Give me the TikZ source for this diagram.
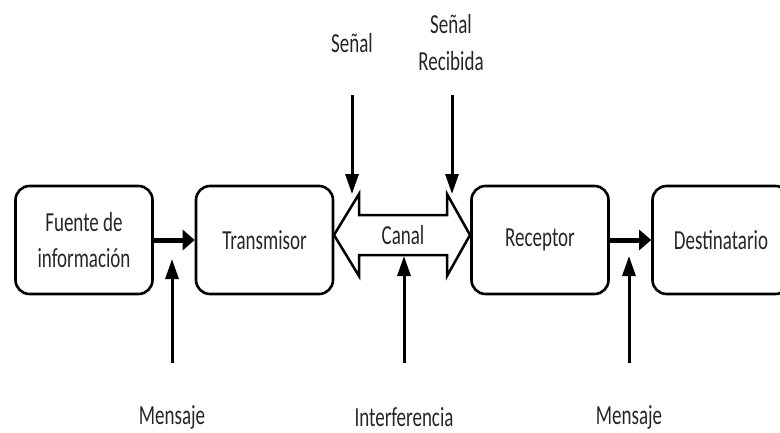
\documentclass[tikz,border=0pt]{standalone}
\usepackage{fontspec}
\setmainfont{Carlito}
\usetikzlibrary{arrows.meta}
\newcommand{\vs}[1]{\scalebox{1}[1.45]{#1}}
\tikzset{
  blk/.style={draw, line width=2.6pt, rounded corners=14pt, minimum width=137pt,
    minimum height=108pt, align=center, inner sep=0pt, font=\fontsize{19}{36}\selectfont, text=black!85},
  lbl/.style={align=center, inner sep=0pt, font=\fontsize{19}{37}\selectfont, text=black!85},
  flow/.style={line width=5pt, -{Triangle[length=12pt,width=20pt]}},
  thin/.style={line width=3pt, -{Triangle[length=20pt,width=13pt]}},
  canal/.style={draw, line width=2.5pt, line join=miter, fill=white}
}
\begin{document}
\begin{tikzpicture}[x=1pt,y=-1pt]
\useasboundingbox (0,0) rectangle (780,432);
\clip (0,0) rectangle (780,432);
% blocks
\node[blk] (fuente) at (84,240) {\vs{Fuente de}\\\vs{información}};
\node[blk] (trans) at (264.5,240) {\vs{Transmisor}};
\node[blk] (recep) at (540,240) {\vs{Receptor}};
\node[blk] (dest) at (721,240) {\vs{Destinatario}};
% canal double arrow
\coordinate (lt) at (334,235);
\coordinate (lhu) at (359,194);
\coordinate (lhd) at (359,276);
\coordinate (rhu) at (447,194);
\coordinate (rhd) at (447,276);
\coordinate (rt) at (470,235);
\draw[canal] (lt) -- (lhu) -- (359,215) -- (447,215) -- (rhu) -- (rt) -- (rhd) -- (447,255) -- (359,255) -- (lhd) -- cycle;
\node[lbl] (canaltxt) at (403,235) {\vs{Canal}};
\coordinate (shaftbot) at (404,256);
% flows
\draw[flow] (fuente.east) -- (trans.west);
\draw[flow] (recep.east) -- (dest.west);
% labels
\node[lbl] (senal) at (352,43) {\vs{Señal}};
\node[lbl] (senalr) at (451,43) {\vs{Señal}\\\vs{Recibida}};
\node[lbl] (mens1) at (172,417) {\vs{Mensaje}};
\node[lbl] (interf) at (404,417) {\vs{Interferencia}};
\node[lbl] (mens2) at (629,417) {\vs{Mensaje}};
% thin arrows
\coordinate (s1) at (352,95);
\coordinate (s2) at (452,95);
\coordinate (b1) at (172,363);
\coordinate (b2) at (404,363);
\coordinate (b3) at (629,363);
\coordinate (t1) at (172,259);
\coordinate (t3) at (629,256);
\draw[thin] (s1) -- (lhu -| s1) ;
\draw[thin] (s2) -- (rhu -| s2);
\draw[thin] (b1) -- (t1);
\draw[thin] (b2) -- (shaftbot);
\draw[thin] (b3) -- (t3);
\end{tikzpicture}
\end{document}
